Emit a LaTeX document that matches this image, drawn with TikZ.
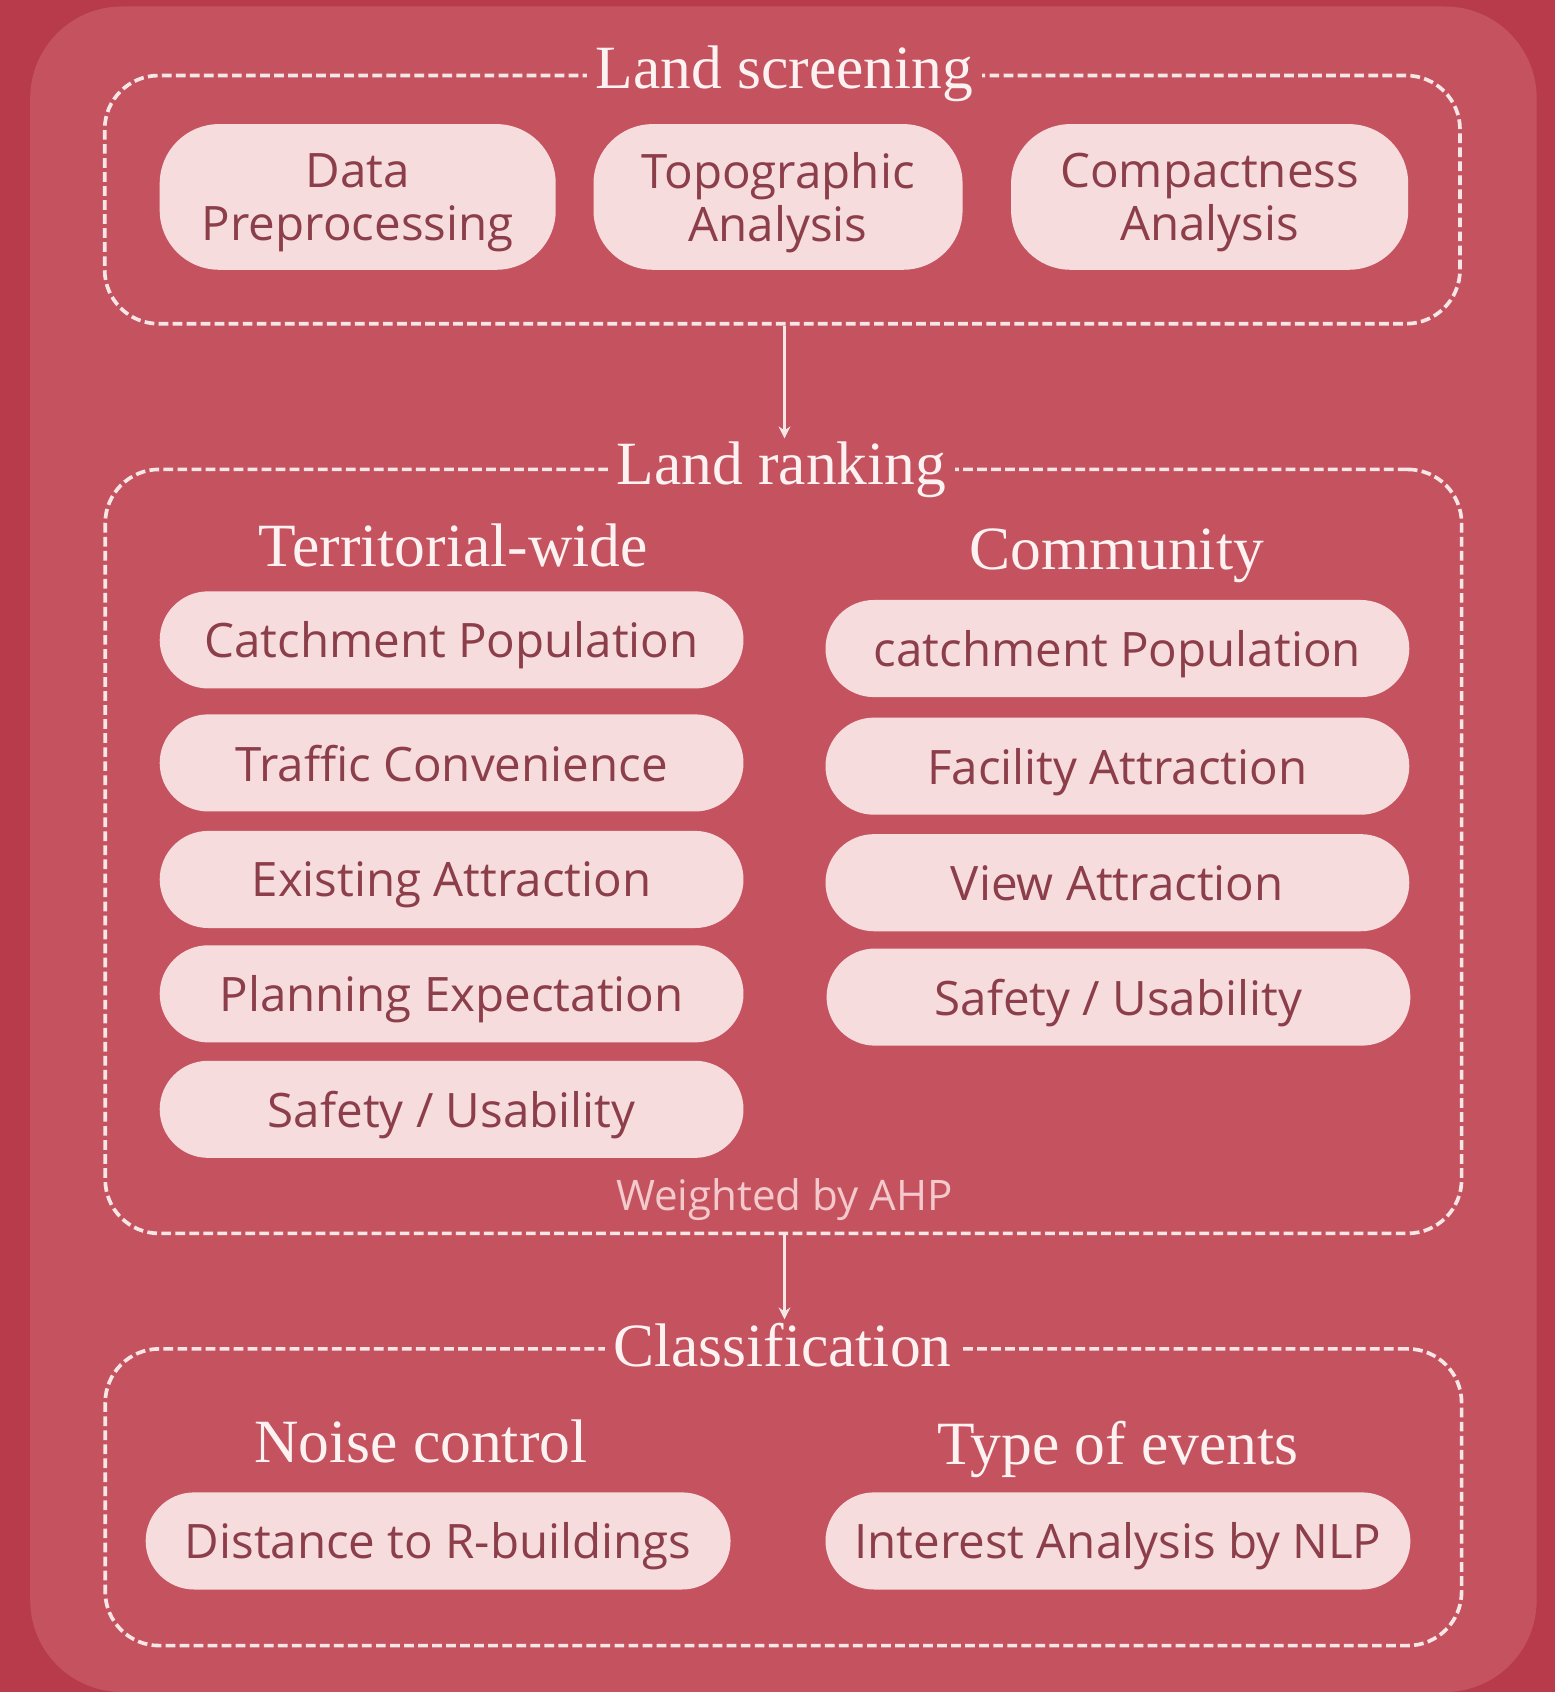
\documentclass[tikz,border=0pt]{standalone}
\usepackage{fontspec}
\setmainfont{Liberation Serif}
\newfontfamily\pillfont{Open Sans}
\usetikzlibrary{arrows.meta}
\definecolor{bgdark}{HTML}{B83B4B}
\definecolor{panel}{HTML}{C5535F}
\definecolor{pillfill}{HTML}{F6DCDD}
\definecolor{pilltext}{HTML}{8C3E4A}
\definecolor{dashcol}{HTML}{F7E6E6}
\definecolor{titlecol}{HTML}{FCF2F2}
\definecolor{notecol}{HTML}{F3C9CC}
\tikzset{
  dbox/.style={draw=dashcol, line width=3.4pt, dash pattern=on 9pt off 4pt, rounded corners=50pt},
  pill/.style={fill=pillfill, text=pilltext, rounded corners=45pt, minimum height=90pt, inner sep=0pt,
    text depth=0pt, font=\pillfont\fontsize{44}{49}\selectfont, align=center},
  bigpill/.style={pill, minimum height=135pt, rounded corners=55pt},
  boxtitle/.style={fill=panel, text=titlecol, inner xsep=8pt, inner ysep=3pt, anchor=base,
    font=\fontsize{57}{60}\selectfont},
  heading/.style={text=titlecol, anchor=base, inner sep=0pt, font=\fontsize{57}{60}\selectfont},
  note/.style={text=notecol, anchor=base, inner sep=0pt, font=\pillfont\fontsize{39}{42}\selectfont},
  arr/.style={draw=dashcol, line width=2pt, -{Stealth[length=11pt,width=11pt]}}
}
\begin{document}
\begin{tikzpicture}[x=1pt,y=-1pt]
\useasboundingbox (0,0) rectangle (1441,1568);
\fill[bgdark] (0,0) rectangle (1441,1568);
\fill[panel, rounded corners=85pt] (28,6) rectangle (1424,1568);

% dashed boxes
\node[dbox, minimum width=1256pt, minimum height=230pt] (b1) at (725,185) {};
\node[dbox, minimum width=1257pt, minimum height=708pt] (b2) at (726,789) {};
\node[dbox, minimum width=1257pt, minimum height=275pt] (b3) at (726,1387.5) {};

% titles
\node[boxtitle] (t1) at (727,82) {Land screening};
\node[boxtitle] (t2) at (724,449) {Land ranking};
\node[boxtitle] (t3) at (725,1266) {Classification};

% land screening pills
\node[bigpill, minimum width=367pt] (p11) at (331.5,182.5) {Data\\Preprocessing};
\node[bigpill, minimum width=342pt] (p12) at (721,182.5) {Topographic\\Analysis};
\node[bigpill, minimum width=368pt] (p13) at (1121,182.5) {Compactness\\Analysis};

% land ranking
\node[heading] (h1) at (420,525) {Territorial-wide};
\node[heading] (h2) at (1035,528) {Community};
\node[pill, minimum width=541pt] (l1) at (418.5,593) {Catchment Population};
\node[pill, minimum width=541pt] (l2) at (418.5,707) {Traffic Convenience};
\node[pill, minimum width=541pt] (l3) at (418.5,815) {Existing Attraction};
\node[pill, minimum width=541pt] (l4) at (418.5,921) {Planning Expectation};
\node[pill, minimum width=541pt] (l5) at (418.5,1028) {Safety / Usability};
\node[pill, minimum width=541pt] (r1) at (1035.5,601) {catchment Population};
\node[pill, minimum width=541pt] (r2) at (1035.5,710) {Facility Attraction};
\node[pill, minimum width=541pt] (r3) at (1035.5,818) {View Attraction};
\node[pill, minimum width=541pt] (r4) at (1036.5,924) {Safety / Usability};
\node[note] (w) at (727,1122) {Weighted by AHP};

% classification
\node[heading] (h3) at (390,1355) {Noise control};
\node[heading] (h4) at (1036,1357) {Type of events};
\node[pill, minimum width=542pt] (c1) at (406,1428) {Distance to R-buildings};
\node[pill, minimum width=542pt] (c2) at (1036,1428) {Interest Analysis by NLP};

% arrows
\draw[arr] (b1.south -| t1.south) -- (t2.north -| t1.south);
\draw[arr] (b2.south -| t1.south) -- (t3.north -| t1.south);
\end{tikzpicture}
\end{document}
